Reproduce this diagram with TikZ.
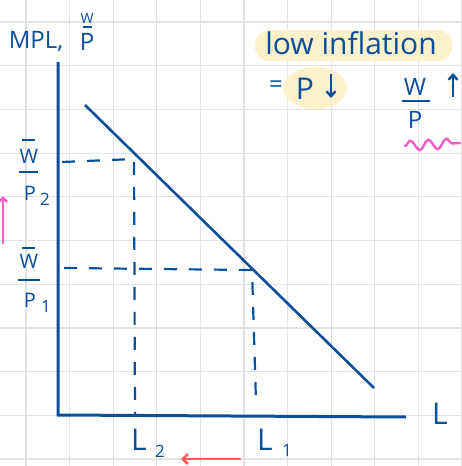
\documentclass[tikz,border=0pt]{standalone}
\usepackage{fontspec}
\setmainfont{Open Sans}
\usetikzlibrary{arrows.meta,decorations.pathmorphing}
\definecolor{ink}{HTML}{0B4F9C}
\definecolor{hl}{HTML}{FBF1CB}
\definecolor{pinkink}{HTML}{F25CC6}
\definecolor{redink}{HTML}{F45F5F}
\definecolor{gridc}{HTML}{E2E2E2}
\tikzset{
  gridline/.style={gridc, line width=1.2pt},
  axis/.style={ink, line width=3pt},
  curve/.style={ink, line width=2.6pt},
  guide/.style={ink, line width=2.2pt, dash pattern=on 13pt off 12pt},
  lbl/.style={text=ink, inner sep=0pt, font=\fontsize{24}{24}\selectfont},
  big/.style={text=ink, inner sep=0pt, font=\fontsize{30}{30}\selectfont},
  small/.style={text=ink, inner sep=0pt, font=\fontsize{20}{20}\selectfont},
  bar/.style={ink, line width=2pt},
  hlbox/.style={fill=hl, rounded corners=14pt, draw=none}
}
\begin{document}
\begin{tikzpicture}[x=1pt,y=-1pt]
\useasboundingbox (0,0) rectangle (462,466);
\fill[white] (0,0) rectangle (462,466);
% grid
\foreach \i in {0,...,10} {
  \draw[gridline] ({26+43.6*\i},0) -- ({26+43.6*\i},466);
  \draw[gridline] (0,{22+43.7*\i}) -- (462,{22+43.7*\i});
}
% highlights
\fill[hlbox] (255,30) rectangle (452,61);
\fill[hl] (315,88) ellipse (32pt and 21pt);
% text top right
\node[big, anchor=base] (low) at (351,54) {low inflation};
\node[lbl, anchor=base] (eq) at (276,92) {=};
\node[big, anchor=base] (pp) at (305,99) {P};
\coordinate (pdA) at (331,74);
\coordinate (pdB) at (331,98);
\draw[ink, line width=2.4pt, -{Straight Barb[length=5pt,width=9pt]}] (pdA) -- (pdB);
\node[lbl, anchor=base] (wr) at (415,95) {W};
\coordinate (wrbL) at (402,101);
\coordinate (wrbR) at (430,101);
\draw[bar] (wrbL) -- (wrbR);
\node[lbl, anchor=base] (pr) at (415,128) {P};
\coordinate (upA) at (453,97);
\coordinate (upB) at (453,73);
\draw[ink, line width=2.4pt, -{Straight Barb[length=5pt,width=9pt]}] (upA) -- (upB);
\coordinate (sqA) at (405,146);
\coordinate (sqB) at (460,143);
\draw[pinkink, line width=2.4pt, line cap=round, decorate, decoration={snake, amplitude=5pt, segment length=18pt}] (sqA) -- (sqB);
% axis title
\node[lbl, anchor=base] (mpl) at (36,48) {MPL,};
\node[small, anchor=base, font=\fontsize{14}{14}\selectfont] (tw) at (87,23) {W};
\coordinate (twL) at (83,27);
\coordinate (twR) at (92,27);
\draw[ink, line width=1.6pt] (twL) -- (twR);
\node[lbl, anchor=base] (tp) at (87,50) {P};
% axes
\coordinate (O) at (58,415);
\coordinate (Ytop) at (58,62);
\coordinate (Xend) at (406,417);
\draw[axis] (Ytop) -- (O) -- (Xend);
\node[big, anchor=base] (Lx) at (440,424) {L};
% demand line
\coordinate (D1) at (85,105);
\coordinate (D2) at (374,388);
\draw[curve] (D1) -- (D2);
% points
\coordinate (A) at (134,159);
\coordinate (B) at (252,270);
\coordinate (Ay) at (62,162);
\coordinate (By) at (64,268);
\coordinate (Ax) at (135,415);
\coordinate (Bx) at (256,402);
\draw[guide] (Ay) -- (A) -- (Ax);
\draw[guide] (By) -- (B) -- (Bx);
% W/P2 label
\draw[bar] (22,140) -- (35,140);
\node[small, anchor=base] (w2) at (29,163) {W};
\draw[bar] (19,172) -- (38,172);
\node[small, anchor=base] (p2) at (30,200) {P};
\node[small, anchor=base, font=\fontsize{17}{17}\selectfont] (s2) at (45,205) {2};
% W/P1 label
\draw[bar] (22,248) -- (35,248);
\node[small, anchor=base] (w1) at (29,268) {W};
\draw[bar] (18,280) -- (40,280);
\node[small, anchor=base] (p1) at (30,307) {P};
\node[small, anchor=base, font=\fontsize{17}{17}\selectfont] (s1) at (46,312) {1};
% L labels
\node[big, anchor=base] (L2) at (139,450) {L};
\node[small, anchor=base, font=\fontsize{17}{17}\selectfont] (L2s) at (160,457) {2};
\node[big, anchor=base] (L1) at (265,450) {L};
\node[small, anchor=base, font=\fontsize{17}{17}\selectfont] (L1s) at (287,456) {1};
% coloured arrows
\coordinate (pkA) at (3,244);
\coordinate (pkB) at (3,196);
\draw[pinkink, line width=2.6pt, -{Straight Barb[length=4pt,width=8pt]}] (pkA) -- (pkB);
\coordinate (rdA) at (240,459);
\coordinate (rdB) at (181,459);
\draw[redink, line width=2.6pt, line cap=round, -{Straight Barb[length=5pt,width=10pt]}] (rdA) -- (rdB);
\end{tikzpicture}
\end{document}
